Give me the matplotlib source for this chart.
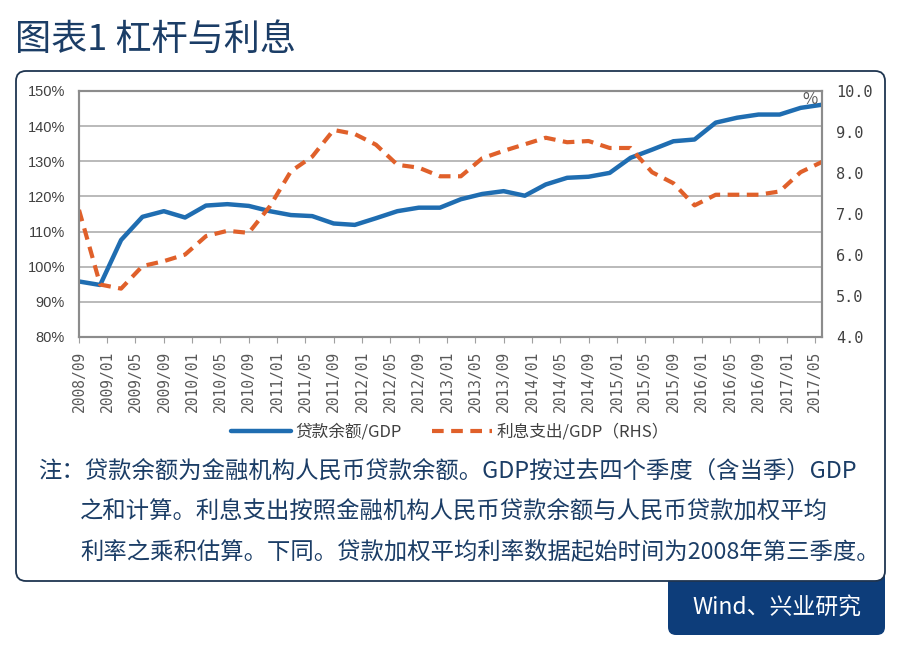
import matplotlib
matplotlib.use('Agg')
import matplotlib.pyplot as plt
import pandas as pd
from matplotlib.patches import FancyBboxPatch

plt.rcParams['font.family'] = ['Noto Sans CJK SC', 'DejaVu Sans']

# 季度数据：2008/09 起，共 36 个季度
dates = pd.date_range('2008-09-01', periods=36, freq='3MS')

# 贷款余额/GDP（%，左轴）
loan_gdp = [95.8, 94.8, 107.6, 114.2, 115.8, 114.0, 117.4, 117.8, 117.3, 115.8, 114.7, 114.4,
            112.3, 111.9, 113.8, 115.8, 116.8, 116.8, 119.2, 120.7, 121.5, 120.2, 123.4, 125.3,
            125.6, 126.7, 131.0, 133.3, 135.7, 136.2, 141.0, 142.4, 143.3, 143.3, 145.2, 146.1]

# 利息支出/GDP（%，右轴）
interest_gdp = [7.10, 5.28, 5.18, 5.73, 5.85, 6.01, 6.46, 6.59, 6.54, 7.19, 8.04, 8.40,
                9.05, 8.95, 8.69, 8.20, 8.13, 7.92, 7.92, 8.36, 8.54, 8.70, 8.86, 8.75,
                8.78, 8.61, 8.61, 8.02, 7.75, 7.21, 7.47, 7.47, 7.47, 7.55, 8.02, 8.27]

tick_dates = pd.date_range('2008-09-01', '2017-05-01', freq='4MS')
tick_labels = [d.strftime('%Y/%m') for d in tick_dates]
left_ticks = [80, 90, 100, 110, 120, 130, 140, 150]
right_ticks = [4, 5, 6, 7, 8, 9, 10]

title = '图表1 杠杆与利息'
notes = ['注：贷款余额为金融机构人民币贷款余额。GDP按过去四个季度（含当季）GDP',
         '之和计算。利息支出按照金融机构人民币贷款余额与人民币贷款加权平均',
         '利率之乘积估算。下同。贷款加权平均利率数据起始时间为2008年第三季度。']
source = 'Wind、兴业研究'

navy = '#1b3d66'
blue = '#1f6db1'
orange = '#e0602a'

fig = plt.figure(figsize=(9, 6.48), dpi=100)

# 背景层，用像素坐标
bg = fig.add_axes([0, 0, 1, 1])
bg.set_xlim(0, 900)
bg.set_ylim(648, 0)
bg.axis('off')
bg.set_zorder(0)

bg.add_patch(FancyBboxPatch((668, 560), 217, 75, boxstyle='round,pad=0,rounding_size=8',
                            fc='#0d3d7a', ec='none', zorder=1))
bg.add_patch(FancyBboxPatch((16, 71), 869, 510, boxstyle='round,pad=0,rounding_size=10',
                            fc='white', ec='#1f3550', lw=1.3, zorder=2))

bg.text(15, 40, title, fontsize=26, color=navy, va='center', fontweight='medium')
bg.text(38, 472, notes[0], fontsize=16.8, color=navy, va='center', zorder=3)
bg.text(80, 512, notes[1], fontsize=16.8, color=navy, va='center', zorder=3)
bg.text(80, 552, notes[2], fontsize=16.8, color=navy, va='center', zorder=3)
bg.text(777, 608, source, fontsize=16.5, color='white', ha='center', va='center', zorder=3)

# 主图
ax = fig.add_axes([79 / 900, 1 - 337 / 648, 743 / 900, 246 / 648])
ax.set_zorder(1)
ax2 = ax.twinx()
ax2.set_zorder(2)

l1, = ax.plot(dates, loan_gdp, color=blue, lw=3.2, solid_capstyle='round',
              solid_joinstyle='round', label='贷款余额/GDP')
l2, = ax2.plot(dates, interest_gdp, color=orange, lw=3.0, dashes=(2.8, 1.8),
               label='利息支出/GDP（RHS）')

ax.set_xlim(dates[0], pd.Timestamp('2017-06-01'))
ax.set_ylim(80, 150)
ax.set_yticks(left_ticks)
ax.set_yticklabels([f'{v}%' for v in left_ticks], fontfamily='Liberation Sans',
                   fontsize=10.5, color='#404040')
ax.set_xticks(tick_dates)
ax.set_xticklabels(tick_labels, rotation=90, fontfamily='DejaVu Sans Mono',
                   fontsize=10.5, color='#595959')
ax.tick_params(axis='x', length=4, color='#a0a0a0', pad=6)
ax.tick_params(axis='y', length=0, pad=10)
ax.yaxis.grid(True, color='#b4b4b4', lw=1.3)
ax.set_axisbelow(True)

ax2.set_ylim(4, 10)
ax2.set_yticks(right_ticks)
ax2.set_yticklabels([f'{v:.1f}' for v in right_ticks], fontfamily='DejaVu Sans Mono',
                    fontsize=11, color='#404040')
ax2.tick_params(axis='y', length=0, pad=10)

for a in (ax, ax2):
    for s in a.spines.values():
        s.set_color('#8c8c8c')
        s.set_linewidth(1.5)

fig.text(810 / 900, 1 - 99 / 648, '%', fontsize=12, color='#595959', ha='center', va='center')

fig.legend(handles=[l1, l2], loc='center', bbox_to_anchor=(450 / 900, 1 - 432 / 648), ncol=2,
           frameon=False, fontsize=12, handlelength=3.6, handletextpad=0.3,
           columnspacing=1.8, labelcolor='#404040')

fig.savefig('out.png', dpi=100)
